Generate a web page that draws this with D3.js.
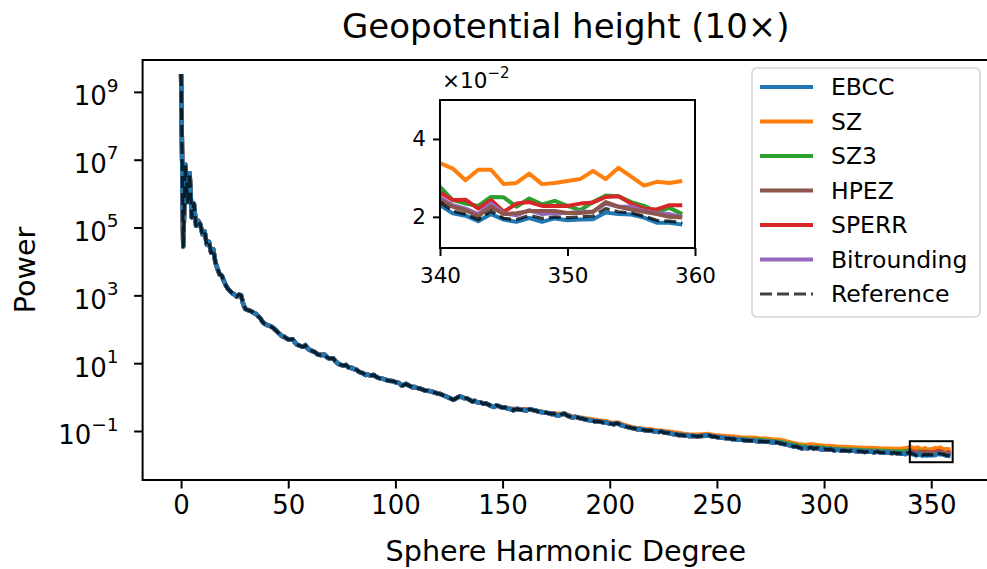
<!DOCTYPE html>
<html>
<head>
<meta charset="utf-8">
<script src="https://cdn.jsdelivr.net/npm/d3@7"></script>
<style>
  body { margin: 0; background: #fff; }
  text { font-family: "DejaVu Sans", sans-serif; fill: #000; }
</style>
</head>
<body>
<div id="chart"></div>
<script>
// ---- data ----
const methods = ["EBCC", "SZ", "SZ3", "HPEZ", "SPERR", "Bitrounding", "Reference"];
const methodColors = ["#1f77b4", "#ff7f0e", "#2ca02c", "#8c564b", "#d62728", "#9467bd", "#000000"];

// shared spectrum, all methods overlap here (degree, log10 power)
const mainDegrees = [0,1,2,3,4,5,6,7,8,9,10,11,12,13,14,15,16,17,18,19,20,21,22,23,24,25,26,27,28,29,30,31,32,33,34,35,36,37,38,39,40,42,43,44,45,46,47,48,49,50,52,53,54,56,57,58,59,60,62,63,64,65,67,68,69,71,72,73,74,76,77,78,80,81,82,83,84,85,86,87,88,90,91,92,93,94,96,97,99,100,101,102,103,104,105,106,107,108,109,110,111,112,114,116,117,118,120,121,122,124,126,127,128,129,130,131,132,133,134,136,137,138,140,141,142,143,144,145,146,147,148,149,150,151,152,154,155,156,157,158,160,161,162,163,164,166,167,168,170,172,173,174,175,176,177,178,179,180,182,183,184,186,187,188,189,190,192,193,194,196,197,198,200,201,202,203,204,205,206,207,208,209,210,212,213,214,215,216,218,219,220,222,223,224,225,226,228,229,230,231,232,234,235,236,237,238,240,241,242,244,246,247,248,249,250,252,253,254,256,257,258,259,260,262,263,264,265,266,268,269,270,272,273,274,275,276,278,279,280,282,283,284,285,286,287,288,289,290,291,292,293,294,295,296,297,298,299,300,302,303,304,305,306,308,309,310,312,313,314,315,316,318,319,320,322,323,324,325,326,328,329,330,332,333,334,335,336,337,338,339];
const mainLogPower = [9.53,4.44,6.85,5.75,6.60,5.30,5.70,5.05,5.20,5.08,4.80,4.88,4.50,4.58,4.26,4.36,3.98,3.78,3.62,3.58,3.42,3.28,3.18,3.12,3.06,3.02,2.96,3.02,3.00,2.74,2.60,2.57,2.55,2.52,2.48,2.45,2.38,2.32,2.22,2.16,2.13,2.08,2.04,1.98,1.92,1.86,1.80,1.78,1.74,1.70,1.71,1.62,1.55,1.50,1.48,1.53,1.44,1.39,1.34,1.30,1.25,1.24,1.25,1.18,1.14,1.14,1.06,1.00,0.96,0.93,0.95,0.88,0.85,0.82,0.80,0.75,0.72,0.70,0.65,0.67,0.64,0.65,0.60,0.57,0.55,0.54,0.50,0.48,0.47,0.44,0.43,0.40,0.34,0.36,0.39,0.35,0.32,0.29,0.30,0.27,0.26,0.24,0.19,0.18,0.16,0.14,0.10,0.09,0.06,0.01,-0.05,-0.08,-0.05,-0.01,0.02,0.00,-0.03,-0.03,-0.06,-0.13,-0.11,-0.15,-0.16,-0.20,-0.18,-0.21,-0.24,-0.27,-0.29,-0.25,-0.26,-0.29,-0.31,-0.30,-0.33,-0.36,-0.39,-0.36,-0.35,-0.37,-0.38,-0.40,-0.37,-0.36,-0.38,-0.41,-0.43,-0.44,-0.46,-0.48,-0.50,-0.49,-0.53,-0.55,-0.52,-0.50,-0.49,-0.54,-0.59,-0.60,-0.58,-0.62,-0.63,-0.65,-0.66,-0.68,-0.69,-0.72,-0.71,-0.73,-0.75,-0.74,-0.78,-0.79,-0.80,-0.77,-0.78,-0.82,-0.84,-0.86,-0.88,-0.89,-0.91,-0.93,-0.95,-0.94,-0.96,-0.97,-0.99,-0.98,-1.00,-1.02,-1.03,-1.01,-1.04,-1.05,-1.06,-1.08,-1.10,-1.09,-1.12,-1.12,-1.14,-1.13,-1.15,-1.14,-1.15,-1.16,-1.15,-1.14,-1.13,-1.14,-1.17,-1.16,-1.18,-1.19,-1.20,-1.21,-1.22,-1.24,-1.23,-1.25,-1.26,-1.26,-1.28,-1.27,-1.29,-1.28,-1.29,-1.31,-1.30,-1.31,-1.32,-1.31,-1.33,-1.34,-1.33,-1.35,-1.37,-1.39,-1.41,-1.42,-1.44,-1.46,-1.45,-1.48,-1.50,-1.51,-1.49,-1.51,-1.50,-1.48,-1.52,-1.51,-1.50,-1.53,-1.54,-1.53,-1.55,-1.53,-1.56,-1.57,-1.55,-1.58,-1.57,-1.58,-1.59,-1.57,-1.58,-1.60,-1.59,-1.61,-1.62,-1.61,-1.60,-1.63,-1.62,-1.61,-1.63,-1.64,-1.62,-1.64,-1.65,-1.64,-1.66,-1.65,-1.67,-1.66,-1.68,-1.65];

// SZ sits a little above the rest in the tail
const szTailDegrees = [150,153,156,159,162,165,168,171,174,177,180,183,186,189,192,195,198,201,204,207,210,213,216,219,222,225,228,231,234,237,240,243,246,249,252,255,258,261,264,267,270,273,276,279,282,285,288,291,294,297,300,303,306,309,312,315,318,321,324,327,330,333,336,339];
const szTailLogPower = [-0.30,-0.33,-0.35,-0.36,-0.36,-0.39,-0.43,-0.46,-0.48,-0.49,-0.51,-0.58,-0.60,-0.63,-0.66,-0.69,-0.71,-0.76,-0.75,-0.83,-0.88,-0.92,-0.94,-0.95,-0.98,-1.00,-1.02,-1.05,-1.08,-1.10,-1.11,-1.10,-1.09,-1.12,-1.14,-1.15,-1.17,-1.19,-1.20,-1.20,-1.22,-1.23,-1.25,-1.26,-1.30,-1.35,-1.39,-1.41,-1.40,-1.42,-1.44,-1.44,-1.46,-1.47,-1.48,-1.49,-1.50,-1.50,-1.51,-1.52,-1.52,-1.53,-1.53,-1.50];
// SZ3 just above the reference near the end
const sz3TailDegrees = [260,264,268,272,276,280,284,288,292,296,300,304,308,312,316,320,324,328,332,336,339];
const sz3TailLogPower = [-1.23,-1.25,-1.26,-1.28,-1.30,-1.33,-1.38,-1.44,-1.47,-1.48,-1.50,-1.52,-1.54,-1.55,-1.56,-1.57,-1.58,-1.59,-1.60,-1.61,-1.59];

// zoomed region, degrees 340..359, values in units of 1e-2
const insetDegrees = [340,341,342,343,344,345,346,347,348,349,350,351,352,353,354,355,356,357,358,359];
const ebccInset = [2.30,2.09,2.03,1.89,2.07,1.93,1.87,1.97,1.87,1.96,1.91,1.93,1.94,2.11,2.07,2.06,1.98,1.85,1.85,1.80];
const szInset = [3.38,3.24,2.94,3.21,3.21,2.84,2.87,3.11,2.84,2.87,2.92,2.97,3.18,2.97,3.26,3.03,2.80,2.90,2.87,2.92];
const sz3Inset = [2.77,2.43,2.34,2.28,2.51,2.50,2.26,2.47,2.32,2.41,2.28,2.17,2.38,2.55,2.53,2.38,2.28,2.13,2.23,2.07];
const hpezInset = [2.43,2.26,2.17,2.02,2.26,2.07,2.09,2.15,2.15,2.15,2.10,2.10,2.13,2.38,2.26,2.19,2.13,2.07,2.00,1.98];
const sperrInset = [2.62,2.43,2.44,2.21,2.43,2.13,2.34,2.38,2.28,2.28,2.28,2.34,2.37,2.51,2.53,2.34,2.21,2.19,2.30,2.30];
const bitroundingInset = [2.50,2.30,2.21,2.07,2.34,2.09,2.04,2.17,2.07,2.10,2.10,2.13,2.13,2.34,2.26,2.26,2.15,2.09,2.07,2.00];
const referenceInset = [2.38,2.15,2.07,1.93,2.15,1.96,1.93,2.04,1.96,2.00,1.98,2.00,2.02,2.21,2.13,2.10,2.02,1.91,1.89,1.85];

const xTicks = [0, 50, 100, 150, 200, 250, 300, 350];
const yTickExponents = [-1, 1, 3, 5, 7, 9];
const insetXTicks = [340, 350, 360];
const insetYTicks = [2, 4];

// ---- build the series ----
const insetByMethod = {
  EBCC: ebccInset, SZ: szInset, SZ3: sz3Inset, HPEZ: hpezInset,
  SPERR: sperrInset, Bitrounding: bitroundingInset, Reference: referenceInset
};

function seriesFor(name) {
  let pts = mainDegrees.map((d, i) => ({ d, v: Math.pow(10, mainLogPower[i]) }));
  if (name === "SZ") {
    pts = pts.filter(p => p.d < szTailDegrees[0])
      .concat(szTailDegrees.map((d, i) => ({ d, v: Math.pow(10, szTailLogPower[i]) })));
  }
  if (name === "SZ3") {
    pts = pts.filter(p => p.d < sz3TailDegrees[0])
      .concat(sz3TailDegrees.map((d, i) => ({ d, v: Math.pow(10, sz3TailLogPower[i]) })));
  }
  const tail = insetDegrees.map((d, i) => ({ d, v: insetByMethod[name][i] * 1e-2 }));
  return pts.concat(tail);
}

// ---- layout ----
const W = 987, H = 569;
const ax = { left: 142.6, right: 989, top: 60, bottom: 480 };
const inset = { left: 440, right: 695, top: 100, bottom: 248 };

const svg = d3.select("#chart").append("svg")
  .attr("width", W)
  .attr("height", H)
  .attr("viewBox", [0, 0, W, H]);

const x = d3.scaleLinear().domain([-17.95, 376.95]).range([ax.left, ax.right]);
const y = d3.scaleLog().domain([Math.pow(10, -2.445), Math.pow(10, 9.94)]).range([ax.bottom, ax.top]);

const xi = d3.scaleLinear().domain([340, 360]).range([inset.left, inset.right]);
const yi = d3.scaleLinear().domain([0.012, 0.050]).range([inset.bottom, inset.top]);

const defs = svg.append("defs");
defs.append("clipPath").attr("id", "clip-main")
  .append("rect").attr("x", ax.left).attr("y", ax.top)
  .attr("width", ax.right - ax.left).attr("height", ax.bottom - ax.top);
defs.append("clipPath").attr("id", "clip-inset")
  .append("rect").attr("x", inset.left).attr("y", inset.top)
  .attr("width", inset.right - inset.left).attr("height", inset.bottom - inset.top);

// draw order: EBCC on top of the coloured ones, reference dashed last
const drawOrder = ["SZ", "SZ3", "SPERR", "Bitrounding", "HPEZ", "EBCC", "Reference"];
const colorOf = name => methodColors[methods.indexOf(name)];

// ---- main lines ----
const mainLine = d3.line().x(p => x(p.d)).y(p => y(p.v));
const gMain = svg.append("g").attr("clip-path", "url(#clip-main)");
drawOrder.forEach(name => {
  const isRef = name === "Reference";
  gMain.append("path")
    .datum(seriesFor(name))
    .attr("fill", "none")
    .attr("stroke", colorOf(name))
    .attr("stroke-opacity", isRef ? 0.75 : 1)
    .attr("stroke-width", isRef ? 3.2 : 4.4)
    .attr("stroke-dasharray", isRef ? "12,5" : null)
    .attr("stroke-linejoin", "round")
    .attr("d", mainLine);
});

// zoom box
svg.append("rect")
  .attr("x", x(340)).attr("y", y(0.050))
  .attr("width", x(360) - x(340)).attr("height", y(0.012) - y(0.050))
  .attr("fill", "none").attr("stroke", "#000").attr("stroke-width", 2);

// ---- main axes ----
const gx = svg.append("g")
  .attr("transform", `translate(0,${ax.bottom})`)
  .call(d3.axisBottom(x).tickValues(xTicks).tickSize(8.5).tickPadding(7).tickSizeOuter(0));
gx.select(".domain").remove();
gx.selectAll(".tick line").attr("stroke-width", 2);
gx.selectAll(".tick text").attr("font-size", "26px").attr("dy", "0.71em");

const gy = svg.append("g")
  .attr("transform", `translate(${ax.left},0)`)
  .call(d3.axisLeft(y).tickValues(yTickExponents.map(e => Math.pow(10, e))).tickSize(8.5).tickFormat(() => ""));
gy.select(".domain").remove();
gy.selectAll(".tick line").attr("stroke-width", 2);
gy.selectAll(".tick text").each(function (d) {
  const t = d3.select(this)
    .attr("font-size", "26px")
    .attr("x", -24)
    .attr("dy", "0.5em")
    .attr("text-anchor", "end");
  t.append("tspan").text("10");
  t.append("tspan")
    .attr("font-size", "18.5px")
    .attr("dy", "-0.75em")
    .text(String(Math.round(Math.log10(d))).replace("-", "\u2212"));
});

// spines: left, top, bottom (right one falls outside the picture)
svg.append("path")
  .attr("d", `M${ax.right},${ax.top}H${ax.left}V${ax.bottom}H${ax.right}`)
  .attr("fill", "none").attr("stroke", "#000").attr("stroke-width", 2);

// labels + title
svg.append("text")
  .attr("x", (ax.left + ax.right) / 2).attr("y", 561)
  .attr("text-anchor", "middle").attr("font-size", "28.6px")
  .text("Sphere Harmonic Degree");
svg.append("text")
  .attr("transform", `translate(35,${(ax.top + ax.bottom) / 2}) rotate(-90)`)
  .attr("text-anchor", "middle").attr("font-size", "28.6px")
  .text("Power");
svg.append("text")
  .attr("x", (ax.left + ax.right) / 2).attr("y", 38)
  .attr("text-anchor", "middle").attr("font-size", "34px")
  .text("Geopotential height (10\u00d7)");

// ---- inset ----
svg.append("rect")
  .attr("x", inset.left).attr("y", inset.top)
  .attr("width", inset.right - inset.left).attr("height", inset.bottom - inset.top)
  .attr("fill", "#fff");

const insetLine = d3.line().x((v, i) => xi(insetDegrees[i])).y(v => yi(v * 1e-2));
const gInset = svg.append("g").attr("clip-path", "url(#clip-inset)");
drawOrder.forEach(name => {
  const isRef = name === "Reference";
  gInset.append("path")
    .datum(insetByMethod[name])
    .attr("fill", "none")
    .attr("stroke", colorOf(name))
    .attr("stroke-opacity", isRef ? 0.75 : 1)
    .attr("stroke-width", isRef ? 3.2 : 4)
    .attr("stroke-dasharray", isRef ? "12,5" : null)
    .attr("stroke-linejoin", "round")
    .attr("d", insetLine);
});

const gxi = svg.append("g")
  .attr("transform", `translate(0,${inset.bottom})`)
  .call(d3.axisBottom(xi).tickValues(insetXTicks).tickSize(8).tickPadding(12).tickSizeOuter(0));
gxi.select(".domain").remove();
gxi.selectAll(".tick line").attr("stroke-width", 2);
gxi.selectAll(".tick text").attr("font-size", "21.5px").attr("dy", "0.71em");

const gyi = svg.append("g")
  .attr("transform", `translate(${inset.left},0)`)
  .call(d3.axisLeft(yi).tickValues(insetYTicks.map(v => v * 1e-2)).tickSize(7).tickPadding(7)
    .tickFormat(v => String(Math.round(v * 100))));
gyi.select(".domain").remove();
gyi.selectAll(".tick line").attr("stroke-width", 2);
gyi.selectAll(".tick text").attr("font-size", "21.5px");

svg.append("rect")
  .attr("x", inset.left).attr("y", inset.top)
  .attr("width", inset.right - inset.left).attr("height", inset.bottom - inset.top)
  .attr("fill", "none").attr("stroke", "#000").attr("stroke-width", 2);

const offsetText = svg.append("text")
  .attr("x", inset.left + 2).attr("y", inset.top - 12)
  .attr("font-size", "21.5px");
offsetText.append("tspan").text("\u00d710");
offsetText.append("tspan").attr("font-size", "15px").attr("dy", "-0.7em").text("\u22122");

// ---- legend ----
const lg = svg.append("g");
lg.append("rect")
  .attr("x", 752).attr("y", 68).attr("width", 228).attr("height", 249)
  .attr("rx", 5).attr("fill", "#fff").attr("fill-opacity", 0.8)
  .attr("stroke", "#d4d4d4").attr("stroke-width", 1.6);

methods.forEach((name, i) => {
  const cy = 87 + i * 34.5;
  const isRef = name === "Reference";
  lg.append("line")
    .attr("x1", 760).attr("x2", 813).attr("y1", cy).attr("y2", cy)
    .attr("stroke", methodColors[i])
    .attr("stroke-opacity", isRef ? 0.75 : 1)
    .attr("stroke-width", isRef ? 3.2 : 4)
    .attr("stroke-dasharray", isRef ? "12,5" : null);
  lg.append("text")
    .attr("x", 831).attr("y", cy).attr("dy", "0.35em")
    .attr("font-size", "23.5px")
    .text(name);
});
</script>
</body>
</html>
